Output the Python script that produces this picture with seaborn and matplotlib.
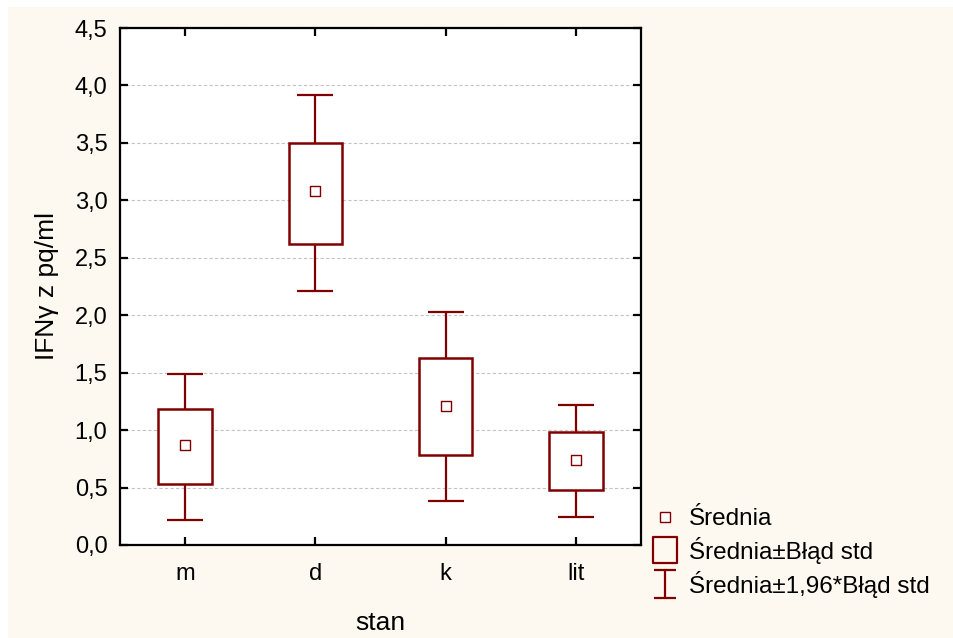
import matplotlib
matplotlib.use("Agg")
import matplotlib.pyplot as plt
import seaborn as sns
import pandas as pd
from matplotlib.lines import Line2D
from matplotlib.path import Path
from matplotlib.patches import Rectangle
from matplotlib.ticker import FuncFormatter, MultipleLocator

# Group means with standard-error box and 1.96*SE whisker limits
categories = ["m", "d", "k", "lit"]
means = [0.87, 3.08, 1.21, 0.74]
box_low = [0.53, 2.62, 0.78, 0.48]
box_high = [1.18, 3.50, 1.63, 0.98]
whisker_low = [0.22, 2.21, 0.38, 0.24]
whisker_high = [1.49, 3.92, 2.03, 1.22]

legend_labels = ["Średnia", "Średnia±Błąd std", "Średnia±1,96*Błąd std"]
x_label = "stan"
y_label = "IFNγ z pq/ml"

dark_red = "#800000"
cream = "#FDF9F0"

sns.set_theme(style="white")
plt.rcParams["font.family"] = ["Liberation Sans", "DejaVu Sans"]
plt.rcParams["text.color"] = "black"
plt.rcParams["axes.labelcolor"] = "black"

df = pd.DataFrame({
    "stan": categories,
    "mean": means,
    "box_low": box_low,
    "box_high": box_high,
    "wlow": whisker_low,
    "whigh": whisker_high,
})

fig = plt.figure(figsize=(9.54, 6.38), dpi=100, facecolor="white")
fig.patches.append(Rectangle((8 / 954, 0), 1, 1 - 7 / 638, transform=fig.transFigure,
                             facecolor=cream, edgecolor="none", zorder=-10))
ax = fig.add_axes([120 / 954, 1 - 545 / 638, (641 - 120) / 954, (545 - 28) / 638])
ax.set_facecolor("white")

# whiskers (mean ± 1.96*SE)
ax.errorbar(df["stan"], df["mean"],
            yerr=[df["mean"] - df["wlow"], df["whigh"] - df["mean"]],
            fmt="none", ecolor=dark_red, elinewidth=1.6, capsize=13, capthick=1.6, zorder=2)

# boxes (mean ± SE)
ax.bar(df["stan"], df["box_high"] - df["box_low"], bottom=df["box_low"], width=0.41,
       facecolor="white", edgecolor=dark_red, linewidth=1.8, zorder=3)

# means
sns.scatterplot(data=df, x="stan", y="mean", marker="s", s=55, facecolor="white",
                edgecolor=dark_red, linewidth=1.0, ax=ax, zorder=4, legend=False)

ax.set_xlim(-0.5, 3.5)
ax.set_ylim(0, 4.5)
ax.yaxis.set_major_locator(MultipleLocator(0.5))
ax.yaxis.set_major_formatter(FuncFormatter(lambda v, p: f"{v:.1f}".replace(".", ",")))
ax.grid(axis="y", color="#C4C4C4", linestyle=(0, (3, 2)), linewidth=0.8, zorder=0)
ax.set_axisbelow(True)

for s in ax.spines.values():
    s.set_color("black")
    s.set_linewidth(1.6)
    s.set_visible(True)
ax.tick_params(direction="in", length=6, width=1.6, color="black",
               top=True, right=True, bottom=True, left=True,
               labelsize=17, labelcolor="black")
ax.tick_params(axis="x", pad=13)
ax.tick_params(axis="y", pad=9)

ax.set_xlabel(x_label, fontsize=19, color="black", labelpad=19)
ax.set_ylabel(y_label, fontsize=19, color="black", labelpad=11)

# legend with custom glyphs
ibeam = Path([(-0.42, -0.5), (0.42, -0.5), (0, -0.5), (0, 0.5), (-0.42, 0.5), (0.42, 0.5)],
             [Path.MOVETO, Path.LINETO, Path.MOVETO, Path.LINETO, Path.MOVETO, Path.LINETO])
rect = Path([(-0.44, -0.5), (0.44, -0.5), (0.44, 0.5), (-0.44, 0.5), (-0.44, -0.5)],
            [Path.MOVETO, Path.LINETO, Path.LINETO, Path.LINETO, Path.CLOSEPOLY])
handles = [
    Line2D([], [], linestyle="none", marker="s", markersize=6.5, markerfacecolor="white",
           markeredgecolor=dark_red, markeredgewidth=1.0),
    Line2D([], [], linestyle="none", marker=rect, markersize=19, markerfacecolor="none",
           markeredgecolor=dark_red, markeredgewidth=1.6),
    Line2D([], [], linestyle="none", marker=ibeam, markersize=19.5, markerfacecolor="none",
           markeredgecolor=dark_red, markeredgewidth=1.6),
]
fig.legend(handles, legend_labels, loc="upper left", bbox_to_anchor=(651 / 954, 1 - 508 / 638),
           frameon=False, fontsize=17.5, handlelength=1.12, handletextpad=0.45,
           labelspacing=0.28, borderpad=0.0, borderaxespad=0.0)

fig.savefig("out.png", dpi=100, facecolor=fig.get_facecolor())
